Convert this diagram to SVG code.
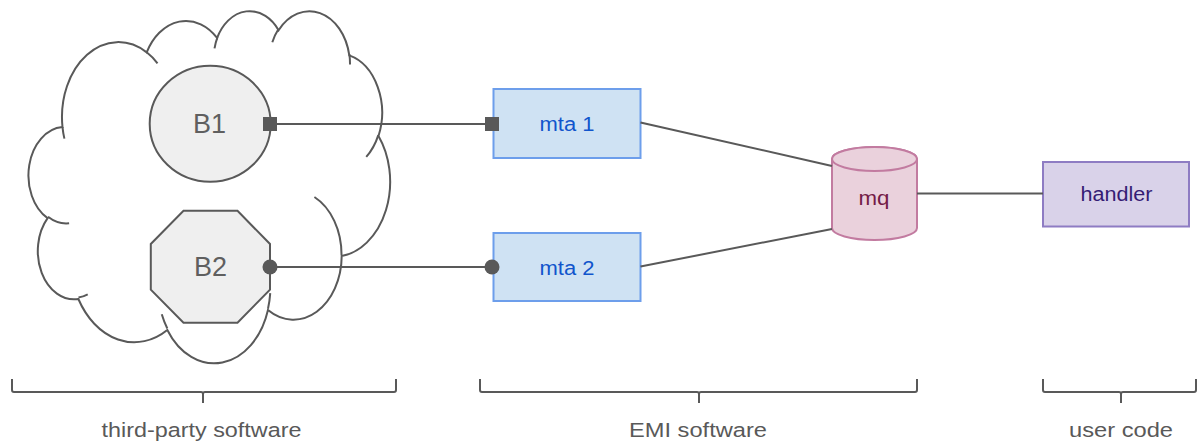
<svg xmlns="http://www.w3.org/2000/svg" width="1198" height="443" viewBox="0 0 1198 443">
  <style>
    text { font-family: "Liberation Sans", Arial, sans-serif; text-anchor: middle; }
    .outline { stroke: #595959; stroke-width: 2; }
    .edge { stroke: #595959; stroke-width: 2; fill: none; }
    .brace { stroke: #595959; stroke-width: 2; fill: none; stroke-linejoin: round; }
    .box-blue { fill: #cfe2f3; stroke: #6d9eeb; stroke-width: 2; }
    .box-pink { fill: #ead1dc; stroke: #c27ba0; stroke-width: 2; }
    .box-purple { fill: #d9d2e9; stroke: #8e7cc3; stroke-width: 2; }
    .t-gray { fill: #5f5f5f; font-size: 27px; }
    .t-blue { fill: #1155cc; font-size: 19.5px; }
    .t-pink { fill: #741b47; font-size: 19.5px; }
    .t-purple { fill: #351c75; font-size: 19.5px; }
    .t-caption { fill: #595959; font-size: 20.5px; }
  </style>
  <defs>
    <marker id="end-square" markerUnits="userSpaceOnUse" markerWidth="14" markerHeight="14" refX="7" refY="7" orient="0">
      <rect width="14" height="14" fill="#595959"/>
    </marker>
    <marker id="end-dot" markerUnits="userSpaceOnUse" markerWidth="16" markerHeight="16" refX="8" refY="8" orient="0">
      <circle cx="8" cy="8" r="7.5" fill="#595959"/>
    </marker>
  </defs>

  <rect width="1198" height="443" fill="#ffffff"/>

  <!-- cloud boundary around the third-party brokers -->
  <g id="cloud">
    <path class="outline" fill="#ffffff" d="M62.5,127.09
      A56.28,74.88 0 0 1 146.70,52.38
      A44.44,59.21 0 0 1 217.13,37.97
      A36.38,48.44 0 0 1 278.60,30.22
      A40.48,53.74 0 0 1 349.31,55.43
      A44.44,59.26 0 0 1 378.48,135.97
      A56.46,75.13 0 0 1 341.70,256.10
      A48.21,64.10 0 0 1 267.97,309.96
      A56.27,75.09 0 0 1 167.33,329.93
      A64.33,85.91 0 0 1 78.37,299.01
      A36.33,48.22 0 0 1 47.60,218.18
      A36.21,48.44 0 0 1 62.5,127.09 Z"/>
    <path class="edge" d="M69.11,223.29 A36.21,48.44 0 0 1 48.0,216.80
      M87.73,294.37 A36.33,48.22 0 0 1 78.49,297.47
      M167.32,328.51 A56.27,75.09 0 0 1 161.76,314.34
      M270.23,293.16 A56.27,75.09 0 0 1 268.0,308.71
      M314.41,197.03 A48.21,64.10 0 0 1 341.51,255.18
      M378.32,135.11 A44.44,59.26 0 0 1 366.25,156.91
      M349.37,54.21 A40.48,53.74 0 0 1 350.0,64.51
      M272.32,42.20 A40.48,53.74 0 0 1 278.5,29.07
      M214.51,48.46 A36.38,48.44 0 0 1 217.5,37.13
      M146.67,52.31 A56.28,74.88 0 0 1 157.51,63.29
      M64.39,138.65 A56.28,74.88 0 0 1 62.5,127.09"/>
  </g>

  <g id="b1">
    <ellipse class="outline" fill="#efefef" cx="210.2" cy="123.8" rx="60.5" ry="58"/>
    <text class="t-gray" x="209.5" y="132.5">B1</text>
  </g>

  <g id="b2">
    <polygon class="outline" fill="#efefef" points="183.5,210.8 237.5,210.8 270,244 270,289.7 237.5,322.7 183.5,322.7 150.8,289.7 150.8,244"/>
    <text class="t-gray" x="210.5" y="276">B2</text>
  </g>

  <g id="mta1">
    <rect class="box-blue" x="493.5" y="89" width="147" height="69"/>
    <text class="t-blue" x="567" y="131" textLength="55" lengthAdjust="spacingAndGlyphs">mta 1</text>
  </g>

  <g id="mta2">
    <rect class="box-blue" x="493.5" y="233" width="147" height="68"/>
    <text class="t-blue" x="567" y="275" textLength="55" lengthAdjust="spacingAndGlyphs">mta 2</text>
  </g>

  <g id="mq">
    <path class="box-pink" d="M832,159 V228 A42.5,12 0 0 0 917,228 V159 A42.5,12 0 0 0 832,159 Z"/>
    <ellipse class="box-pink" cx="874.5" cy="159" rx="42.5" ry="12"/>
    <text class="t-pink" x="874" y="205" textLength="31" lengthAdjust="spacingAndGlyphs">mq</text>
  </g>

  <g id="handler">
    <rect class="box-purple" x="1043" y="162" width="146" height="64.5"/>
    <text class="t-purple" x="1116.5" y="201" textLength="72" lengthAdjust="spacingAndGlyphs">handler</text>
  </g>

  <g id="connectors">
    <line class="edge" x1="270" y1="124" x2="492" y2="124" marker-start="url(#end-square)" marker-end="url(#end-square)"/>
    <line class="edge" x1="270" y1="267" x2="492" y2="267" marker-start="url(#end-dot)" marker-end="url(#end-dot)"/>
    <line class="edge" x1="640.5" y1="122.5" x2="832" y2="166"/>
    <line class="edge" x1="640.5" y1="266.5" x2="832" y2="229"/>
    <line class="edge" x1="917" y1="193.5" x2="1043" y2="193.5"/>
  </g>

  <!-- grouping braces and captions -->
  <g id="group-third-party">
    <path class="brace" d="M12,379 V390 Q12,392 14,392 H201 Q203,392 203,394 V403 M203,394 Q203,392 205,392 H394 Q396,392 396,390 V379"/>
    <text class="t-caption" x="201.5" y="437" textLength="200" lengthAdjust="spacingAndGlyphs">third-party software</text>
  </g>
  <g id="group-emi">
    <path class="brace" d="M480,379 V390 Q480,392 482,392 H697 Q699,392 699,394 V403 M699,394 Q699,392 701,392 H915 Q917,392 917,390 V379"/>
    <text class="t-caption" x="698" y="437" textLength="138" lengthAdjust="spacingAndGlyphs">EMI software</text>
  </g>
  <g id="group-user">
    <path class="brace" d="M1043,379 V390 Q1043,392 1045,392 H1119 Q1121,392 1121,394 V403 M1121,394 Q1121,392 1123,392 H1194 Q1196,392 1196,390 V379"/>
    <text class="t-caption" x="1121" y="437" textLength="104" lengthAdjust="spacingAndGlyphs">user code</text>
  </g>
</svg>
